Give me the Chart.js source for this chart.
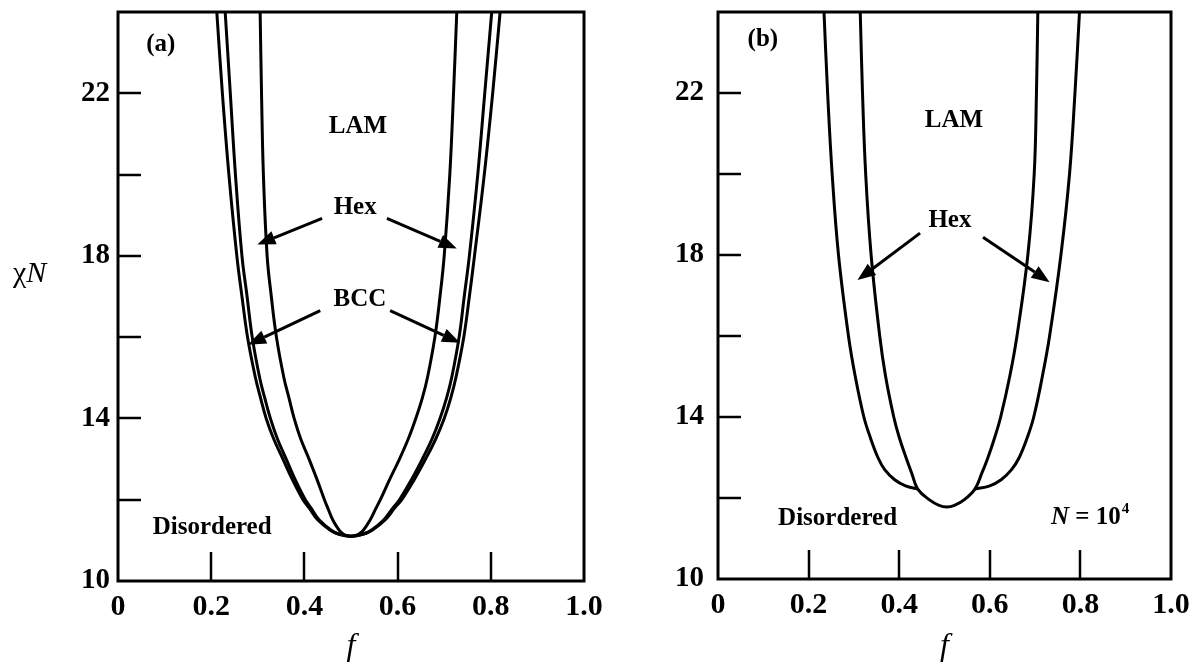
<!DOCTYPE html>
<html>
<head>
<meta charset="utf-8">
<script src="https://cdn.jsdelivr.net/npm/chart.js@4/dist/chart.umd.min.js"></script>
<style>
html,body{margin:0;padding:0;background:#fff;}
#wrap{position:relative;width:1201px;height:669px;overflow:hidden;background:#fff;}
#ca{position:absolute;left:0;top:0;}
#cb{position:absolute;left:620px;top:0;}
</style>
</head>
<body>
<div id="wrap">
<canvas id="ca" width="620" height="669"></canvas>
<canvas id="cb" width="581" height="669"></canvas>
</div>
<script>
// ---------- tick labels ----------
const fTickLabels = ['0', '0.2', '0.4', '0.6', '0.8', '1.0'];
const chiTickLabels = [10, 14, 18, 22];

// ---------- panel (a): mean-field ----------
const aChi = [24,22,20,18,17,16,15,14.5,14,13.5,13,12.5,12,11.8,11.5,11.25,11.15,11.1,11.15,11.25,11.5,11.8,12,12.5,13,13.5,14,14.5,15,16,17,18,20,22,24];
// order-disorder (Disordered / BCC)
const aOdtF = [0.212,0.224,0.238,0.255,0.266,0.278,0.295,0.306,0.318,0.334,0.354,0.374,0.397,0.410,0.429,0.4555,0.474,0.500,0.526,0.5455,0.573,0.594,0.609,0.636,0.660,0.682,0.700,0.714,0.725,0.742,0.754,0.765,0.786,0.804,0.820];
// BCC / Hex
const aBccF = [0.230,0.241,0.252,0.266,0.277,0.288,0.304,0.315,0.327,0.342,0.361,0.380,0.402,0.414,0.432,0.4575,0.475,0.500,0.525,0.5435,0.570,0.590,0.604,0.630,0.653,0.674,0.691,0.705,0.716,0.732,0.743,0.754,0.772,0.787,0.802];
// Hex / LAM
const aHexF = [0.305,0.308,0.312,0.320,0.329,0.340,0.356,0.367,0.378,0.392,0.410,0.427,0.443,0.450,0.461,0.4745,0.484,0.500,0.516,0.5265,0.541,0.554,0.563,0.583,0.604,0.623,0.639,0.653,0.664,0.680,0.691,0.700,0.712,0.720,0.727];

// ---------- panel (b): N = 10^4 ----------
// order-disorder (Disordered / Hex): left and right shoulders
const bOdtLeftF    = [0.234,0.242,0.252,0.266,0.288,0.303,0.322,0.336,0.353,0.368,0.390,0.414,0.441];
const bOdtLeftChi  = [24,22,20,18,16,15,14,13.5,13,12.7,12.45,12.3,12.22];
const bOdtRightF   = [0.567,0.600,0.625,0.648,0.665,0.683,0.697,0.716,0.732,0.757,0.776,0.788,0.798];
const bOdtRightChi = [12.22,12.3,12.45,12.7,13,13.5,14,15,16,18,20,22,24];
// Hex / LAM (joining the direct Disordered / LAM bowl)
const bHexF   = [0.314,0.319,0.326,0.338,0.357,0.370,0.388,0.400,0.415,0.428,0.441,0.466,0.488,0.505,0.522,0.544,0.567,0.582,0.596,0.611,0.624,0.644,0.660,0.684,0.698,0.703,0.706];
const bHexChi = [24,22,20,18,16,15,14,13.5,13,12.6,12.22,11.96,11.82,11.78,11.82,11.96,12.22,12.6,13,13.5,14,15,16,18,20,22,24];

const pts = (fs, cs) => fs.map((f, i) => ({x: f, y: cs[i]}));

// ---------- annotations (data coordinates) ----------
const textsA = [
  {t:'(a)', x:0.092, y:23.2},
  {t:'LAM', x:0.515, y:21.18},
  {t:'Hex', x:0.509, y:19.19},
  {t:'BCC', x:0.519, y:16.92},
  {t:'Disordered', x:0.202, y:11.31}
];
const arrowsA = [
  [0.438,18.92, 0.299,18.28],
  [0.577,18.92, 0.727,18.18],
  [0.434,16.65, 0.279,15.81],
  [0.584,16.65, 0.734,15.86]
];
const textsB = [
  {t:'(b)', x:0.099, y:23.32},
  {t:'LAM', x:0.521, y:21.31},
  {t:'Hex', x:0.512, y:18.84},
  {t:'Disordered', x:0.264, y:11.49}
];
const arrowsB = [
  [0.446,18.54, 0.308,17.38],
  [0.585,18.44, 0.732,17.33]
];

const SERIF = '"Liberation Serif", "DejaVu Serif", serif';

function decorPlugin(texts, arrows, extra) {
  return {
    id: 'decor',
    afterDatasetsDraw(chart) {
      const {ctx, chartArea: a, scales: {x, y}} = chart;
      ctx.save();
      ctx.strokeStyle = '#000';
      ctx.fillStyle = '#000';
      ctx.lineCap = 'butt';
      // inward tick marks
      ctx.lineWidth = 2.5;
      y.ticks.forEach(t => {
        if (t.value > y.min && t.value < y.max) {
          const py = Math.round(y.getPixelForValue(t.value));
          ctx.beginPath(); ctx.moveTo(a.left, py); ctx.lineTo(a.left + 23, py); ctx.stroke();
        }
      });
      x.ticks.forEach(t => {
        if (t.value > x.min + 1e-6 && t.value < x.max - 1e-6) {
          const px = Math.round(x.getPixelForValue(t.value));
          ctx.beginPath(); ctx.moveTo(px, a.bottom); ctx.lineTo(px, a.bottom - 29); ctx.stroke();
        }
      });
      // frame
      ctx.lineWidth = 3;
      ctx.strokeRect(a.left, a.top, a.right - a.left, a.bottom - a.top);
      // texts
      ctx.font = 'bold 25px ' + SERIF;
      ctx.textAlign = 'center';
      ctx.textBaseline = 'middle';
      texts.forEach(tx => ctx.fillText(tx.t, x.getPixelForValue(tx.x), y.getPixelForValue(tx.y)));
      // arrows
      arrows.forEach(ar => {
        const x1 = x.getPixelForValue(ar[0]), y1 = y.getPixelForValue(ar[1]);
        const x2 = x.getPixelForValue(ar[2]), y2 = y.getPixelForValue(ar[3]);
        const ang = Math.atan2(y2 - y1, x2 - x1);
        const hl = 18, hw = 7;
        const bx = x2 - hl * Math.cos(ang), by = y2 - hl * Math.sin(ang);
        ctx.lineWidth = 3;
        ctx.beginPath(); ctx.moveTo(x1, y1); ctx.lineTo(bx, by); ctx.stroke();
        ctx.beginPath();
        ctx.moveTo(x2, y2);
        ctx.lineTo(bx + hw * Math.sin(ang), by - hw * Math.cos(ang));
        ctx.lineTo(bx - hw * Math.sin(ang), by + hw * Math.cos(ang));
        ctx.closePath(); ctx.fill();
      });
      if (extra) extra(ctx, chart);
      ctx.restore();
    }
  };
}

function makeChart(el, datasets, cfg) {
  return new Chart(el, {
    type: 'scatter',
    data: {datasets: datasets.map(d => ({
      data: d, showLine: true, pointRadius: 0, borderColor: '#000',
      borderWidth: 3, tension: 0.4, fill: false, borderJoinStyle: 'round'
    }))},
    options: {
      responsive: false,
      animation: false,
      devicePixelRatio: 1,
      layout: {padding: {left: 0, right: cfg.padRight, top: 12, bottom: 0}},
      plugins: {legend: {display: false}, tooltip: {enabled: false}},
      scales: {
        x: {
          type: 'linear', min: 0, max: 1,
          grid: {display: false, drawTicks: false},
          border: {display: false},
          ticks: {
            stepSize: 0.2, autoSkip: false, maxRotation: 0, padding: 8,
            color: '#000', font: {family: SERIF, size: 30, weight: 'bold'},
            callback: (v) => fTickLabels[Math.round(v * 5)] ?? ''
          },
          title: {display: true, text: 'f', color: '#000',
            font: {family: SERIF, size: 32, style: 'italic'}, padding: {top: 0, bottom: 3}},
          afterFit: (s) => { s.height = cfg.xH; s.paddingLeft = 0; s.paddingRight = 0; }
        },
        y: {
          type: 'linear', min: 10, max: 24,
          grid: {display: false, drawTicks: false},
          border: {display: false},
          ticks: {
            stepSize: 2, autoSkip: false, padding: cfg.yPad,
            color: '#000', font: {family: SERIF, size: 29, weight: 'bold'},
            callback: (v) => chiTickLabels.includes(v) ? String(v) : ''
          },
          afterFit: (s) => { s.width = cfg.yW; s.paddingTop = 0; s.paddingBottom = 0; }
        }
      }
    },
    plugins: [cfg.plugin]
  });
}

makeChart(document.getElementById('ca'),
  [pts(aOdtF, aChi), pts(aBccF, aChi), pts(aHexF, aChi)],
  {padRight: 36, xH: 88, yW: 118, yPad: 8,
   plugin: decorPlugin(textsA, arrowsA, (ctx) => {
     ctx.textAlign = 'left'; ctx.textBaseline = 'middle';
     ctx.font = '30px ' + SERIF;
     ctx.fillText('\u03C7', 13, 274);
     const w = ctx.measureText('\u03C7').width;
     ctx.font = 'italic 30px ' + SERIF;
     ctx.fillText('N', 13 + w, 274);
   })});

makeChart(document.getElementById('cb'),
  [pts(bOdtLeftF, bOdtLeftChi), pts(bOdtRightF, bOdtRightChi), pts(bHexF, bHexChi)],
  {padRight: 30, xH: 90, yW: 98, yPad: 14,
   plugin: decorPlugin(textsB, arrowsB, (ctx, chart) => {
     const {x, y} = chart.scales;
     let px = x.getPixelForValue(0.735), py = y.getPixelForValue(11.51);
     ctx.textAlign = 'left'; ctx.textBaseline = 'middle';
     ctx.font = 'italic bold 25px ' + SERIF;
     ctx.fillText('N', px, py);
     px += ctx.measureText('N').width;
     ctx.font = 'bold 25px ' + SERIF;
     ctx.fillText(' = 10', px, py);
     px += ctx.measureText(' = 10').width + 1;
     ctx.font = 'bold 15px ' + SERIF;
     ctx.fillText('4', px, py - 9);
   })});
</script>
</body>
</html>
